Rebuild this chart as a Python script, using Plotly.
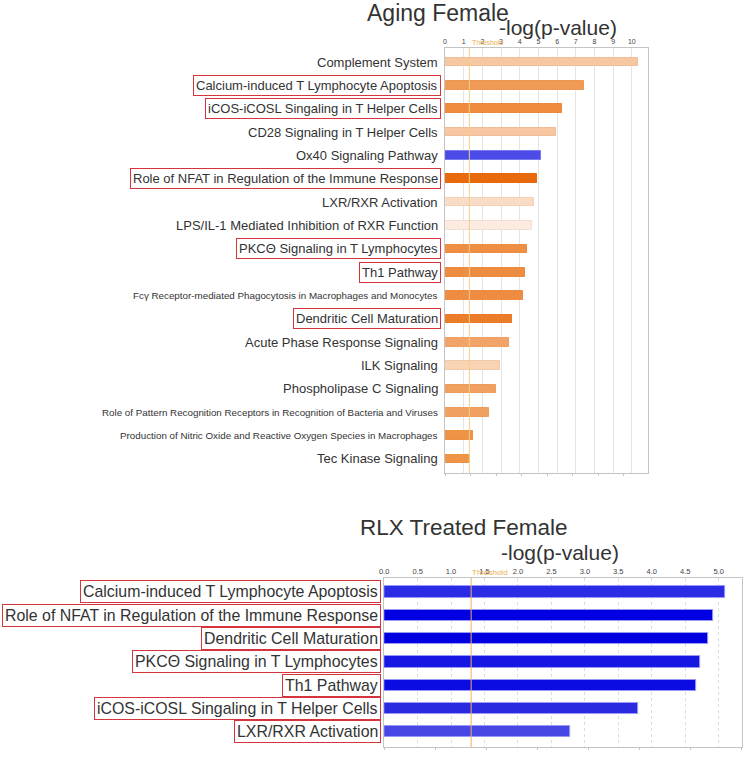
import plotly.graph_objects as go

W, H = 750, 761

# ---------------- data ----------------
aging_pathways = [
    "Complement System",
    "Calcium-induced T Lymphocyte Apoptosis",
    "iCOS-iCOSL Singaling in T Helper Cells",
    "CD28 Signaling in T Helper Cells",
    "Ox40 Signaling Pathway",
    "Role of NFAT in Regulation of the Immune Response",
    "LXR/RXR Activation",
    "LPS/IL-1 Mediated Inhibition of RXR Function",
    "PKCΘ Signaling in T Lymphocytes",
    "Th1 Pathway",
    "Fcγ Receptor-mediated Phagocytosis in Macrophages and Monocytes",
    "Dendritic Cell Maturation",
    "Acute Phase Response Signaling",
    "ILK Signaling",
    "Phospholipase C Signaling",
    "Role of Pattern Recognition Receptors in Recognition of Bacteria and Viruses",
    "Production of Nitric Oxide and Reactive Oxygen Species in Macrophages",
    "Tec Kinase Signaling",
]
aging_values = [10.34, 7.42, 6.28, 5.95, 5.15, 4.94, 4.76, 4.65, 4.39, 4.30,
                4.19, 3.58, 3.43, 2.92, 2.71, 2.37, 1.52, 1.36]
aging_boxed = [False, True, True, False, False, True, False, False, True, True,
               False, True, False, False, False, False, False, False]

rlx_pathways = [
    "Calcium-induced T Lymphocyte Apoptosis",
    "Role of NFAT in Regulation of the Immune Response",
    "Dendritic Cell Maturation",
    "PKCΘ Signaling in T Lymphocytes",
    "Th1 Pathway",
    "iCOS-iCOSL Singaling in T Helper Cells",
    "LXR/RXR Activation",
]
rlx_values = [5.10, 4.92, 4.84, 4.72, 4.67, 3.80, 2.78]

threshold = 1.3
aging_ticks = list(range(0, 11))
rlx_ticks = [0.0, 0.5, 1.0, 1.5, 2.0, 2.5, 3.0, 3.5, 4.0, 4.5, 5.0]

# ---------------- styles ----------------
aging_colors = ["#f6c8a2", "#ef9a55", "#ee8b3d", "#f6c7a2", "#4b4be8", "#e86a0c",
                "#f9dcc6", "#fcebe0", "#ef8f44", "#ee8c40", "#ee8d42", "#eb7d29",
                "#f2a468", "#f8d3b4", "#f1a05f", "#f0a060", "#ef9447", "#ef9447"]
aging_line = ["#f2bd94", "#ec9550", "#eb883c", "#f2bd94", "#7a7af0", "#e5680c",
              "#f3d0b6", "#f3ddd0", "#ec8c42", "#ec8a3e", "#ec8a40", "#e97a27",
              "#eea062", "#f1c8a8", "#ee9c5a", "#ed9c5a", "#ec9144", "#ec9144"]
aging_fsize = [13, 13, 13, 13, 13, 13, 13, 13, 13, 13,
               9.8, 13, 13, 13, 13, 9.8, 9.8, 13]
rlx_colors = ["#2b2be6", "#0000e2", "#0000e0", "#1717e3", "#0b0be3", "#2a2ae0", "#4747e6"]

FONT = "Arial, Liberation Sans, sans-serif"
TXT = "#333333"
RED = "#d6343c"

fig = go.Figure()

fig.add_trace(go.Bar(
    x=aging_values, y=aging_pathways, orientation="h",
    marker=dict(color=aging_colors, line=dict(color=aging_line, width=1)),
    width=0.37, xaxis="x", yaxis="y", showlegend=False, hoverinfo="x+y",
))
fig.add_trace(go.Bar(
    x=rlx_values, y=rlx_pathways, orientation="h",
    marker=dict(color=rlx_colors, line=dict(color="#9a9af5", width=1)),
    width=0.48, xaxis="x2", yaxis="y2", showlegend=False, hoverinfo="x+y",
))

top_dom_x = [443 / W, 647 / W]
top_dom_y = [1 - 473 / H, 1 - 48 / H]
bot_dom_x = [381.7 / W, 742 / W]
bot_dom_y = [1 - 747 / H, 1 - 578 / H]

axis_common = dict(showline=True, linecolor="#c4c4c4", linewidth=1, mirror=True,
                   zeroline=False, ticks="", fixedrange=True)

fig.update_layout(
    width=W, height=H, autosize=False,
    margin=dict(l=0, r=0, t=0, b=0),
    paper_bgcolor="white", plot_bgcolor="white",
    font=dict(family=FONT, color=TXT),
    bargap=0,
    xaxis=dict(domain=top_dom_x, anchor="y", side="top", range=[0, 10.85],
               tickvals=aging_ticks, ticktext=[str(t) for t in aging_ticks],
               tickfont=dict(size=7, color="#444"),
               showgrid=True, gridcolor="#e4e4e4", gridwidth=1, **axis_common),
    yaxis=dict(domain=top_dom_y, anchor="x", type="category",
               categoryorder="array", categoryarray=aging_pathways,
               range=[len(aging_pathways) - 0.4, -0.6],
               showticklabels=False, showgrid=False, **axis_common),
    xaxis2=dict(domain=bot_dom_x, anchor="y2", side="top", range=[0, 5.35],
                tickvals=rlx_ticks, ticktext=[f"{t:.1f}" for t in rlx_ticks],
                tickfont=dict(size=7.5, color="#444"),
                showgrid=True, gridcolor="#dcdcdc", griddash="dot", gridwidth=1,
                **axis_common),
    yaxis2=dict(domain=bot_dom_y, anchor="x2", type="category",
                categoryorder="array", categoryarray=rlx_pathways,
                range=[len(rlx_pathways) - 0.35, -0.6],
                showticklabels=False, showgrid=False, **axis_common),
    # small tick marks along the bottom edges
    xaxis3=dict(domain=top_dom_x, anchor="free", overlaying="x", position=top_dom_y[0],
                side="bottom", range=[0, 10.85], tick0=0, dtick=1.365,
                ticks="outside", ticklen=2, tickcolor="#c4c4c4",
                showticklabels=False, showgrid=False, showline=False, zeroline=False),
    xaxis4=dict(domain=bot_dom_x, anchor="free", overlaying="x2", position=bot_dom_y[0],
                side="bottom", range=[0, 5.35], tick0=0, dtick=0.763,
                ticks="outside", ticklen=2, tickcolor="#c4c4c4",
                showticklabels=False, showgrid=False, showline=False, zeroline=False),
)

# invisible traces so the overlay axes render
fig.add_trace(go.Scatter(x=[0], y=[aging_pathways[0]], xaxis="x3", yaxis="y",
                         mode="markers", marker=dict(opacity=0), showlegend=False,
                         hoverinfo="skip"))
fig.add_trace(go.Scatter(x=[0], y=[rlx_pathways[0]], xaxis="x4", yaxis="y2",
                         mode="markers", marker=dict(opacity=0), showlegend=False,
                         hoverinfo="skip"))

# threshold lines
fig.add_shape(type="line", xref="x", yref="y domain", x0=threshold, x1=threshold,
              y0=0, y1=1, line=dict(color="#f1cf8a", width=1))
fig.add_shape(type="line", xref="x2", yref="y2 domain", x0=threshold, x1=threshold,
              y0=0, y1=1, line=dict(color="#f3b060", width=1))


def paper_text(text, cx, cy, size):
    return dict(text=text, x=cx / W, y=1 - cy / H, xref="paper", yref="paper",
                xanchor="center", yanchor="middle", showarrow=False,
                font=dict(size=size, color="#333"))


ann = [
    paper_text("Aging Female", 436, 13, 23),
    paper_text("-log(p-value)", 557, 27, 21),
    paper_text("RLX Treated Female", 462, 527, 22.5),
    paper_text("-log(p-value)", 559, 552, 21),
]
# threshold labels
ann.append(dict(text="Threshold", x=threshold, xref="x", y=1 - 42 / H, yref="paper",
                xanchor="left", yanchor="middle", showarrow=False, xshift=1,
                font=dict(size=7, color="#e8b04a")))
ann.append(dict(text="Threshold", x=threshold, xref="x2", y=1 - 572 / H, yref="paper",
                xanchor="left", yanchor="middle", showarrow=False, xshift=-1,
                font=dict(size=8, color="#eab050")))

# pathway labels (top)
for name, boxed, fs in zip(aging_pathways, aging_boxed, aging_fsize):
    ann.append(dict(text=name, x=439 / W, xref="paper", y=name, yref="y",
                    xanchor="right", yanchor="middle", showarrow=False,
                    font=dict(size=fs, color=TXT), borderpad=2,
                    bordercolor=RED if boxed else "rgba(0,0,0,0)", borderwidth=1))
# pathway labels (bottom) -- all boxed
for name in rlx_pathways:
    ann.append(dict(text=name, x=379 / W, xref="paper", y=name, yref="y2",
                    xanchor="right", yanchor="middle", showarrow=False,
                    font=dict(size=15.9, color=TXT), borderpad=2,
                    bordercolor=RED, borderwidth=1))

fig.update_layout(annotations=ann)

fig.write_html(
    "out.html",
    config={"displayModeBar": False},
    post_script="document.body.style.margin='0';document.body.style.overflow='hidden';",
)
